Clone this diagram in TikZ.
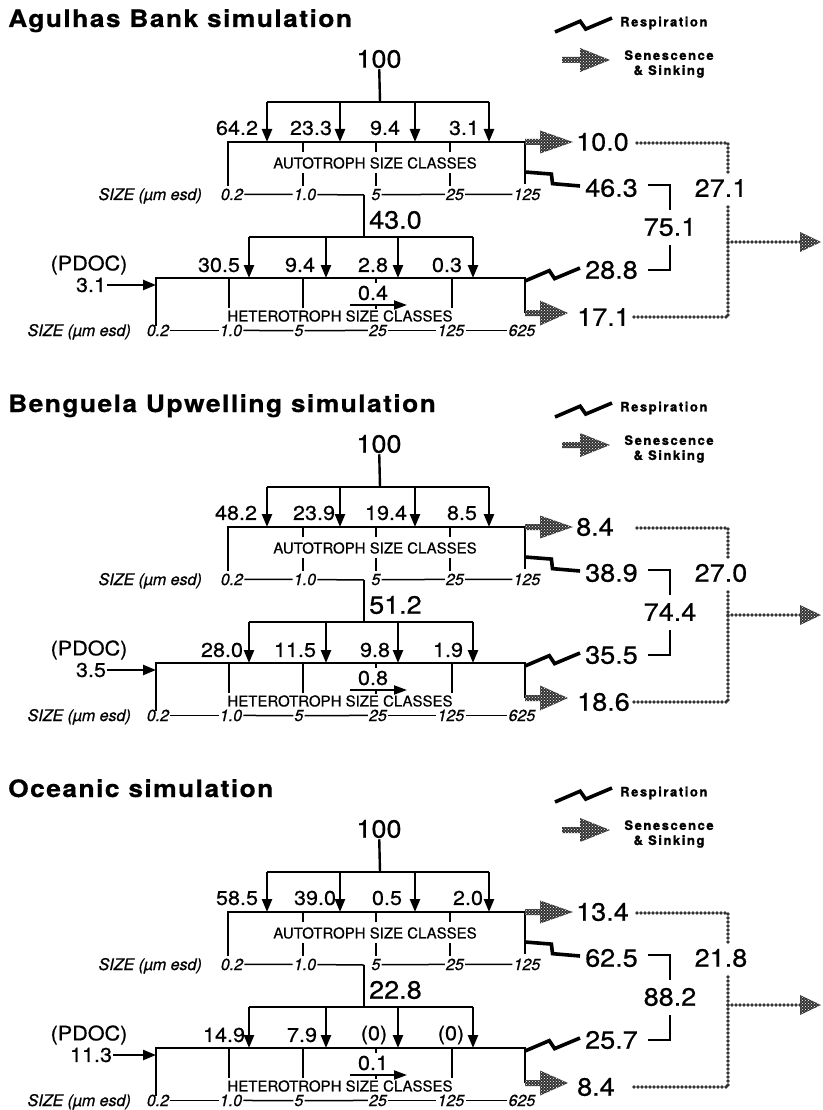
\documentclass[tikz,border=0pt]{standalone}
\usepackage{fontspec}
\setmainfont{TeX Gyre Heros}
\newfontfamily\headfont[LetterSpace=6,FakeStretch=1.1,FakeBold=0.6]{TeX Gyre Heros}
\newfontfamily\keyfont[LetterSpace=12,FakeBold=1.2]{TeX Gyre Heros}
\newfontfamily\numfont[FakeStretch=1.08,FakeBold=0.6]{TeX Gyre Heros}
\newfontfamily\sizefont[FakeBold=0.9]{TeX Gyre Heros}
\newfontfamily\classfont[FakeBold=0.5]{TeX Gyre Heros}
\usetikzlibrary{arrows.meta,calc,patterns}
\tikzset{
  title/.style={anchor=base west, inner sep=0pt,
    font=\headfont\bfseries\fontsize{24}{28}\selectfont},
  legend/.style={inner sep=0pt, align=center,
    font=\keyfont\bfseries\fontsize{13}{15}\selectfont},
  bignum/.style={inner sep=1pt, font=\numfont\fontsize{25}{28}\selectfont},
  midnum/.style={inner sep=1pt, font=\numfont\fontsize{20}{23}\selectfont},
  sizelab/.style={anchor=base, inner sep=1pt,
    font=\sizefont\itshape\fontsize{16}{18}\selectfont},
  boxtext/.style={inner sep=0pt, font=\classfont\fontsize{15}{17}\selectfont},
  frame/.style={line width=2.4pt},
  tick/.style={line width=2pt},
  sizeline/.style={line width=1.5pt},
  flow/.style={line width=2.4pt, -{Triangle[length=13pt,width=10pt]}},
  flowthin/.style={line width=2pt, -{Triangle[length=13pt,width=9pt]}},
  resp/.style={line width=3.6pt, line join=miter, miter limit=6},
  sen/.style={preaction={fill=black!80}, pattern=crosshatch dots,
    pattern color=white},
  sinkline/.style={draw=black!80, line width=3.8pt,
    dash pattern=on 0pt off 4pt, line cap=round}
}
% respiration zigzag between two named points
\newcommand\bolt[2]{%
  \draw[resp] (#1) -- ($(#1)!0.46!(#2)!4.5pt!90:(#2)$)
    -- ($(#1)!0.52!(#2)!4.5pt!-90:(#2)$) -- (#2);}
% senescence arrow: tail start, tip, head length, half head height
\newcommand\sinkarrow[4]{%
  \fill[sen] ($(#1)+(0,-3)$) -- ($(#2)+(-#3,-3)$) -- ($(#2)+(-#3,-#4)$)
    -- (#2) -- ($(#2)+(-#3,#4)$) -- ($(#2)+(-#3,3)$) -- ($(#1)+(0,3)$)
    -- cycle;}
% common frame of one simulation panel: title, outlet height
\newcommand\panelframe[2]{%
  \node[title] (title) at (8,27) {#1};
  \coordinate (lg-r0) at (555,32); \coordinate (lg-r1) at (612,18);
  \bolt{lg-r0}{lg-r1}
  \node[legend, anchor=west] (lg-resp) at (620,23) {Respiration};
  \coordinate (lg-s0) at (562,60); \coordinate (lg-s1) at (610,60);
  \sinkarrow{lg-s0}{lg-s1}{30}{12}
  \node[legend] (lg-sen) at (669,64) {Senescence\\\& Sinking};
  % autotrophs
  \node[bignum] (src) at (379,59) {100};
  \coordinate (tbar) at (380,102);
  \draw[frame] (src) -- (tbar);
  \foreach \i/\x in {1/267,2/340,3/415,4/489}{
    \coordinate (tb\i) at (\x,102);
    \coordinate (ta\i) at (\x,142);
    \draw[flow] (tb\i) -- (ta\i);
  }
  \draw[frame] (tb1) -- (tb4);
  \coordinate (a-nw) at (228,142); \coordinate (a-ne) at (525,142);
  \coordinate (a-sw) at (228,186); \coordinate (a-se) at (525,184);
  \draw[frame] (a-sw) -- (a-nw) -- (a-ne) -- (a-se);
  \foreach \x in {303,376,450}
    \draw[tick] (\x,142) -- (\x,152) (\x,173) -- (\x,186);
  \node[boxtext] (a-text) at (375,163) {AUTOTROPH SIZE CLASSES};
  \node[sizelab, anchor=base east] (a-size) at (203,200) {SIZE (µm esd)};
  \foreach \i/\x/\lab in {1/232/0.2,2/305/1.0,3/376/5,4/455/25,5/527/125}
    \node[sizelab] (as\i) at (\x,200) {\lab};
  \draw[sizeline] (as1) -- (as2) (as3) -- (as4) -- (as5);
  % heterotrophs
  \coordinate (kink) at (364,195); \coordinate (hbar) at (364,237);
  \draw[sizeline] (as2) -- (kink);
  \draw[frame] (kink) -- (hbar);
  \foreach \i/\x in {1/249,2/326,3/398,4/473}{
    \coordinate (hb\i) at (\x,237);
    \coordinate (ha\i) at (\x,278);
    \draw[flow] (hb\i) -- (ha\i);
  }
  \draw[frame] (hb1) -- (hb4);
  \coordinate (h-nw) at (156,278); \coordinate (h-ne) at (525,278);
  \coordinate (h-sw) at (156,326); \coordinate (h-se) at (525,313);
  \draw[frame] (h-sw) -- (h-nw) -- (h-ne) -- (h-se);
  \foreach \x in {229,303,452}
    \draw[tick] (\x,278) -- (\x,308);
  \draw[tick] (376,278) -- (376,283) (376,305) -- (376,309);
  \node[boxtext] (h-text) at (340,316) {HETEROTROPH SIZE CLASSES};
  \coordinate (hf0) at (350,305); \coordinate (hf1) at (407,305);
  \draw[flowthin] (hf0) -- (hf1);
  \node[sizelab, anchor=base east] (h-size) at (132,336) {SIZE (µm esd)};
  \foreach \i/\x/\lab in {1/158/0.2,2/231/1.0,3/299/5,4/378/25,5/451/125,6/522/625}
    \node[sizelab] (hs\i) at (\x,336) {\lab};
  \foreach \i [evaluate=\i as \j using int(\i+1)] in {1,...,5}
    \draw[sizeline] (hs\i) -- (hs\j);
  \node[midnum] (pdoc) at (89,265) {(PDOC)};
  \coordinate (h-in) at (156,285);
  % losses
  \coordinate (as-tip) at (573,142);
  \sinkarrow{a-ne}{as-tip}{33}{11.5}
  \coordinate (hs-tip) at (568,313);
  \sinkarrow{h-se}{hs-tip}{28}{12.5}
  \coordinate (ar0) at (525,172); \coordinate (ar1) at (580,186);
  \bolt{ar0}{ar1}
  \coordinate (hr0) at (525,281); \coordinate (hr1) at (580,268);
  \bolt{hr0}{hr1}
  \coordinate (bt0) at (648,185); \coordinate (bt1) at (670,185);
  \coordinate (bt2) at (670,210);
  \coordinate (bb0) at (670,245); \coordinate (bb1) at (670,270);
  \coordinate (bb2) at (648,270);
  \draw[frame] (bt0) -- (bt1) -- (bt2) (bb0) -- (bb1) -- (bb2);
  \coordinate (d1) at (637,143); \coordinate (d2) at (728,143);
  \coordinate (d3) at (728,172); \coordinate (d4) at (728,207);
  \coordinate (d5) at (728,317); \coordinate (d6) at (633,317);
  \coordinate (d7) at (728,#2); \coordinate (d8) at (800,#2);
  \coordinate (d9) at (821,#2);
  \draw[sinkline] (d1) -- (d2) -- (d3);
  \draw[sinkline] (d4) -- (d5) -- (d6);
  \draw[sinkline] (d7) -- (d8);
  \fill[sen] (d9) -- ($(d8)+(0,-10)$) -- ($(d8)+(0,10)$) -- cycle;
}
% numbers of one panel
\newcommand\panelvalues[9]{%
  \node[bignum, anchor=west] (graze) at (368,220) {#1};
  \node[midnum] (hflow) at (373,293) {#2};
  \node[midnum] (pval) at (91,285) {#3};
  \draw[flow] (pval) -- (h-in);
  \node[bignum, anchor=west] (asen) at (575,142) {#4};
  \node[bignum, anchor=west] (aresp) at (584,188) {#5};
  \node[bignum] (resp) at (670,227) {#6};
  \node[bignum, anchor=west] (hresp) at (584,270) {#7};
  \node[bignum, anchor=west] (hsen) at (576,317) {#8};
  \node[bignum] (sink) at (721,188) {#9};
}

\begin{document}
\begin{tikzpicture}[x=1pt, y=-1pt]
  \useasboundingbox (0,0) rectangle (822,1110);
  \begin{scope}[name prefix=ab-]
    \panelframe{Agulhas Bank simulation}{242}
    \foreach \i/\x/\val in {1/237/64.2,2/311/23.3,3/385/9.4,4/464/3.1}
      \node[midnum] (top\i) at (\x,128) {\val};
    \foreach \i/\x/\val in {1/219/30.5,2/300/9.4,3/373/2.8,4/447/0.3}
      \node[midnum] (het\i) at (\x,265) {\val};
    \panelvalues{43.0}{0.4}{3.1}{10.0}{46.3}{75.1}{28.8}{17.1}{27.1}
  \end{scope}
  \begin{scope}[name prefix=bu-, shift={(0,385)}]
    \panelframe{Benguela Upwelling simulation}{230}
    \foreach \i/\x/\val in {1/236/48.2,2/314/23.9,3/386/19.4,4/462/8.5}
      \node[midnum] (top\i) at (\x,128) {\val};
    \foreach \i/\x/\val in {1/222/28.0,2/295/11.5,3/375/9.8,4/448/1.9}
      \node[midnum] (het\i) at (\x,265) {\val};
    \panelvalues{51.2}{0.8}{3.5}{8.4}{38.9}{74.4}{35.5}{18.6}{27.0}
  \end{scope}
  \begin{scope}[name prefix=oc-, shift={(0,770)}]
    \panelframe{Oceanic simulation}{235}
    \foreach \i/\x/\val in {1/237/58.5,2/315/39.0,3/387/0.5,4/468/2.0}
      \node[midnum] (top\i) at (\x,128) {\val};
    \foreach \i/\x/\val in {1/224/14.9,2/302/7.9,3/374/(0),4/451/(0)}
      \node[midnum] (het\i) at (\x,265) {\val};
    \panelvalues{22.8}{0.1}{11.3}{13.4}{62.5}{88.2}{25.7}{8.4}{21.8}
  \end{scope}
\end{tikzpicture}
\end{document}
